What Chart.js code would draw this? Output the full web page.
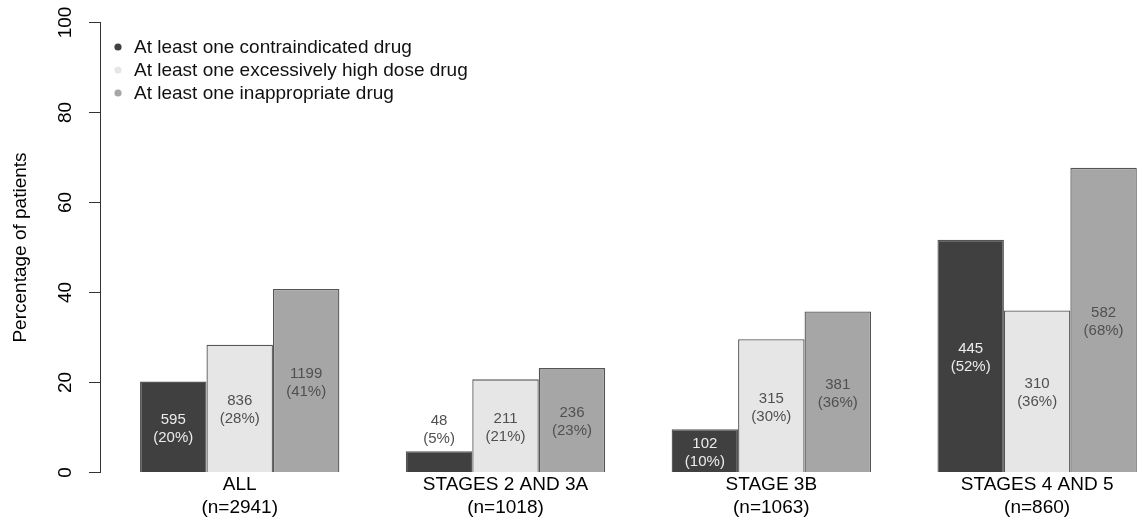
<!DOCTYPE html>
<html><head><meta charset="utf-8">
<script src="https://cdn.jsdelivr.net/npm/chart.js@4.4.1/dist/chart.umd.min.js"></script>
<style>html,body{margin:0;padding:0;background:#fff;overflow:hidden}</style>
</head><body>
<canvas id="c" width="1140" height="519"></canvas>
<script>
const categories = [["ALL","(n=2941)"],["STAGES 2 AND 3A","(n=1018)"],["STAGE 3B","(n=1063)"],["STAGES 4 AND 5","(n=860)"]];
const seriesNames = ["At least one contraindicated drug","At least one excessively high dose drug","At least one inappropriate drug"];
const contraindicated = [20.2, 4.7, 9.6, 51.7];
const highDose = [28.4, 20.7, 29.6, 36.0];
const inappropriate = [40.8, 23.2, 35.8, 67.7];
const contraCounts = [595, 48, 102, 445];
const highDoseCounts = [836, 211, 315, 310];
const inappropriateCounts = [1199, 236, 381, 582];
const yTicks = [0, 20, 40, 60, 80, 100];
const yTitle = "Percentage of patients";

const FONT = '"Liberation Sans", Arial, sans-serif';
const colors = ['#404040', '#e6e6e6', '#a6a6a6'];
const seriesValues = [contraindicated, highDose, inappropriate];
const seriesCounts = [contraCounts, highDoseCounts, inappropriateCounts];

const datasets = seriesValues.map((vals, d) => ({
  label: seriesNames[d],
  data: vals.map((v, i) => ({x: i, y: v})),
  counts: seriesCounts[d],
  backgroundColor: colors[d],
  borderColor: '#555555',
  borderWidth: 1.3,
  barPercentage: 1,
  categoryPercentage: 0.75
}));

const labelPlugin = {
  id: 'barLabels',
  afterDatasetsDraw(chart) {
    const ctx = chart.ctx;
    ctx.save();
    ctx.font = '15px ' + FONT;
    ctx.textAlign = 'center';
    ctx.textBaseline = 'middle';
    chart.data.datasets.forEach((ds, di) => {
      const meta = chart.getDatasetMeta(di);
      meta.data.forEach((el, i) => {
        const h = el.base - el.y;
        const inside = h >= 30;
        const cy = inside ? (el.y + el.base) / 2 : el.y - 23;
        ctx.fillStyle = (di === 0 && inside) ? '#ececec' : '#505050';
        ctx.fillText(String(ds.counts[i]), el.x, cy - 7);
        ctx.fillText('(' + Math.round(ds.data[i].y) + '%)', el.x, cy + 11);
      });
    });
    ctx.restore();
  }
};

const axisLabelPlugin = {
  id: 'yTickLabels',
  afterDraw(chart) {
    const ctx = chart.ctx;
    const ys = chart.scales.y;
    ctx.save();
    ctx.font = '19px ' + FONT;
    ctx.fillStyle = '#000';
    ctx.textAlign = 'center';
    ctx.textBaseline = 'middle';
    ys.ticks.forEach(t => {
      const py = ys.getPixelForValue(t.value);
      ctx.save();
      ctx.translate(66, py);
      ctx.rotate(-Math.PI / 2);
      ctx.fillText(String(t.value), 0, 0);
      ctx.restore();
    });
    // legend
    ctx.textAlign = 'left';
    chart.data.datasets.forEach((ds, di) => {
      const ly = 47 + di * 23;
      ctx.beginPath();
      ctx.arc(118, ly, 3.6, 0, Math.PI * 2);
      ctx.fillStyle = ds.backgroundColor;
      ctx.fill();
      ctx.fillStyle = '#111';
      ctx.fillText(ds.label, 134, ly + 1);
    });
    ctx.restore();
  }
};

new Chart(document.getElementById('c'), {
  type: 'bar',
  data: { datasets },
  options: {
    responsive: false,
    animation: false,
    layout: { padding: { left: 0, top: 22.5, right: 0, bottom: 0 } },
    plugins: { legend: { display: false }, tooltip: { enabled: false } },
    scales: {
      x: {
        type: 'linear',
        offset: false,
        min: -0.5256,
        max: 3.387,
        afterBuildTicks(s) { s.ticks = categories.map((_, i) => ({ value: i })); },
        afterFit(s) { s.height = 46.5; },
        grid: { display: false },
        border: { display: false },
        ticks: {
          autoSkip: false,
          maxRotation: 0,
          padding: -7,
          color: '#000',
          font: { family: FONT, size: 19, lineHeight: 1.21 },
          callback: (v) => categories[v]
        }
      },
      y: {
        min: 0,
        max: 100,
        afterBuildTicks(s) { s.ticks = yTicks.map(v => ({ value: v })); },
        afterFit(s) { s.width = 100; },
        ticks: { display: false },
        grid: { drawOnChartArea: false, drawTicks: true, tickLength: 11, color: '#333', lineWidth: 1 },
        border: { display: true, color: '#333', width: 1 },
        title: { display: true, text: yTitle, color: '#000', font: { family: FONT, size: 19 }, padding: { top: 9, bottom: 0 } }
      }
    }
  },
  plugins: [labelPlugin, axisLabelPlugin]
});
</script>
</body></html>
